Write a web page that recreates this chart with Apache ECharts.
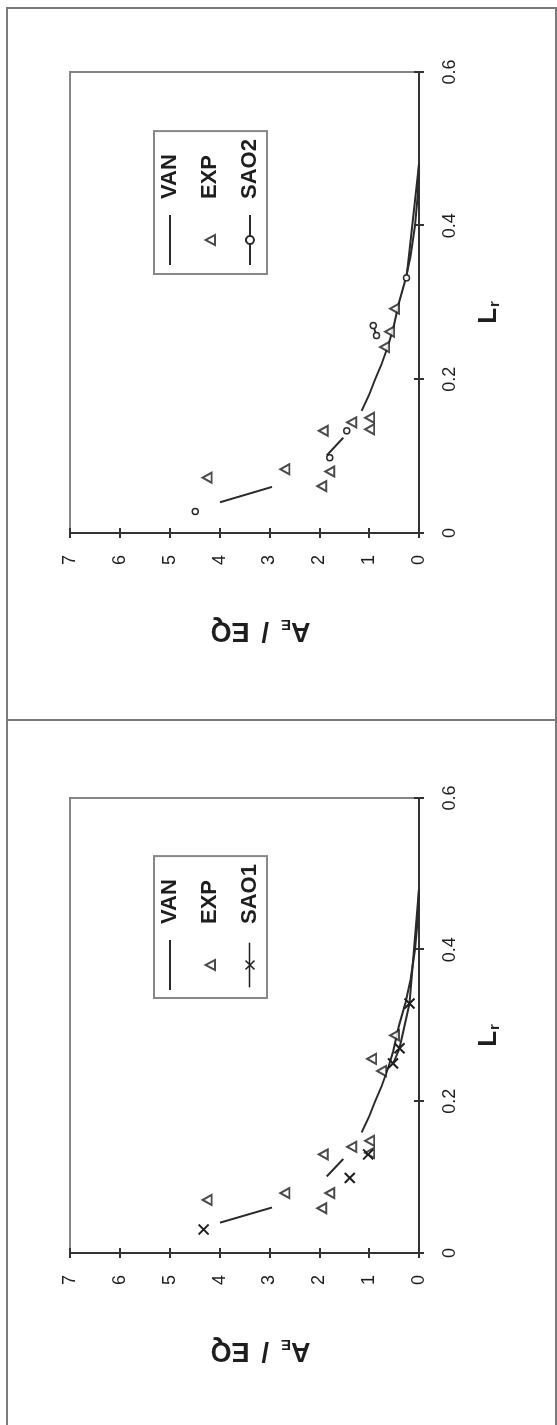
<!DOCTYPE html>
<html>
<head>
<meta charset="utf-8">
<script src="https://cdn.jsdelivr.net/npm/echarts@6/dist/echarts.min.js"></script>
<style>
  html, body { margin: 0; padding: 0; background: #fff; width: 557px; height: 1425px; overflow: hidden; }
  #page { position: absolute; left: 0; top: 0; width: 557px; height: 1425px; overflow: hidden; }
  /* the figure is laid out landscape and turned a quarter turn counter-clockwise */
  #chart { position: absolute; left: 0; top: 0; width: 1425px; height: 557px;
           transform-origin: 0 0; transform: translateY(1425px) rotate(-90deg); }
</style>
</head>
<body>
<div id="page"><div id="chart"></div></div>
<script>
// axis ticks
const lrTicks = [0, 0.2, 0.4, 0.6];
const lrLabels = ['0', '0.2', '0.4', '0.6'];
const ratioTicks = [0, 1, 2, 3, 4, 5, 6, 7];
const ratioLabels = ['0', '1', '2', '3', '4', '5', '6', '7'];

// points are [L_r, A_E/EQ]; '-' leaves a gap in a line
const vanCurve = [
  [0.040, 3.99], [0.060, 2.95], '-',
  [0.101, 1.85], [0.124, 1.52], '-',
  [0.159, 1.15], [0.180, 1.00], [0.200, 0.88], [0.220, 0.75], [0.242, 0.63],
  [0.265, 0.52], [0.300, 0.40], [0.330, 0.27], [0.360, 0.17], [0.400, 0.08],
  [0.440, 0.025], [0.480, 0.00]
];

const expPointsA = [
  [0.070, 4.25], [0.079, 2.69], [0.059, 1.95], [0.079, 1.79], [0.130, 1.92],
  [0.140, 1.35], [0.148, 0.99], [0.132, 0.99], [0.256, 0.95], [0.240, 0.75],
  [0.287, 0.49]
];
const sao1Points = [
  [0.031, 4.32], '-', [0.099, 1.39], '-', [0.130, 1.02], '-',
  [0.250, 0.52], [0.270, 0.39], [0.329, 0.19], { value: [0.480, 0.00], symbol: 'none' }
];

const expPointsB = [
  [0.072, 4.25], [0.083, 2.69], [0.061, 1.95], [0.080, 1.79], [0.133, 1.92],
  [0.144, 1.35], [0.150, 0.99], [0.135, 0.99], [0.242, 0.69], [0.262, 0.59],
  [0.292, 0.49]
];
const sao2Points = [
  [0.028, 4.49], '-', [0.098, 1.79], '-', [0.133, 1.45], '-',
  [0.257, 0.85], [0.270, 0.92], '-', [0.332, 0.25], { value: [0.480, 0.00], symbol: 'none' }
];

const FONT = '"Liberation Sans", Arial, Helvetica, sans-serif';
const INK = '#1e1e1e';
const AXIS = '#333';

// landscape layout (before the quarter turn)
const grids = [
  { left: 172, width: 455, top: 70, height: 349 },
  { left: 892, width: 461, top: 70, height: 349 }
];
const legendBoxes = [
  { left: 427, top: 154 },
  { left: 1151, top: 154 }
];

const xAxes = [], yAxes = [];
grids.forEach((g, i) => {
  xAxes.push({
    type: 'value', gridIndex: i, position: 'bottom', min: lrTicks[0], max: lrTicks[lrTicks.length - 1],
    interval: lrTicks[1] - lrTicks[0],
    name: '{a|L}{b|r}', nameLocation: 'middle', nameGap: 56,
    nameTextStyle: { padding: [0, 20, 0, 0], rich: {
      a: { fontFamily: FONT, fontSize: 26, fontWeight: 'bold', color: INK },
      b: { fontFamily: FONT, fontSize: 15, fontWeight: 'bold', color: INK, verticalAlign: 'bottom', padding: [12, 0, 0, 1] }
    } },
    axisLine: { show: true, lineStyle: { color: AXIS, width: 2 } },
    axisTick: { show: true, inside: false, length: 5, lineStyle: { color: AXIS, width: 2 } },
    axisLabel: { margin: 22, fontFamily: FONT, fontSize: 18, color: INK,
      formatter: v => lrLabels[lrTicks.findIndex(t => Math.abs(t - v) < 1e-9)] ?? '' },
    splitLine: { show: false }
  });
  // inner half of the crossing ticks
  xAxes.push({
    type: 'value', gridIndex: i, position: 'bottom', offset: 0, min: lrTicks[0], max: lrTicks[lrTicks.length - 1],
    interval: lrTicks[1] - lrTicks[0],
    axisLine: { show: false }, axisLabel: { show: false }, splitLine: { show: false },
    axisTick: { show: true, inside: true, length: 5, lineStyle: { color: AXIS, width: 2 } }
  });
  yAxes.push({
    type: 'value', gridIndex: i, position: 'left', min: ratioTicks[0], max: ratioTicks[ratioTicks.length - 1],
    interval: ratioTicks[1] - ratioTicks[0],
    name: '{a|A}{b|E}{s|/}{a|EQ}', nameLocation: 'middle', nameGap: 84, nameRotate: 90,
    nameTextStyle: { padding: [0, 32, 0, 0], rich: {
      a: { fontFamily: FONT, fontSize: 27, fontWeight: 'bold', color: INK },
      s: { fontFamily: FONT, fontSize: 27, fontWeight: 'bold', color: INK, padding: [0, 12, 0, 10] },
      b: { fontFamily: FONT, fontSize: 15, fontWeight: 'bold', color: INK, verticalAlign: 'bottom', padding: [12, 2, 0, 0] }
    } },
    axisLine: { show: true, lineStyle: { color: AXIS, width: 2 } },
    axisTick: { show: true, inside: false, length: 5, lineStyle: { color: AXIS, width: 2 } },
    axisLabel: { margin: 22, fontFamily: FONT, fontSize: 18, color: INK,
      formatter: v => ratioLabels[ratioTicks.indexOf(Math.round(v))] ?? '' },
    splitLine: { show: false }
  });
  yAxes.push({
    type: 'value', gridIndex: i, position: 'left', offset: 0, min: ratioTicks[0], max: ratioTicks[ratioTicks.length - 1],
    interval: ratioTicks[1] - ratioTicks[0],
    axisLine: { show: false }, axisLabel: { show: false }, splitLine: { show: false },
    axisTick: { show: true, inside: true, length: 5, lineStyle: { color: AXIS, width: 2 } }
  });
});

const lineStyle = { color: '#2a2a2a', width: 2 };
const crossSymbol = 'path://M0,0L10,10M0,10L10,0';
// legend keys drawn inside padded boxes so they keep a small size
const legendLine = 'path://M0,0M50,10M0,4.1L50,4.1L50,5.9L0,5.9Z';
const legendTriangle = 'path://M0,0M9,9M0,9L4.5,0.5L9,9Z';
const legendCross = 'path://M0,0M50,10M0,4.1L50,4.1L50,5.9L0,5.9Z' +
  'M20.6,0L25,4.4L29.4,0L30.6,1.2L26.2,5.6L30.6,10L29.4,11.2L25,6.8L20.6,11.2L19.4,10L23.8,5.6L19.4,1.2Z';

function panelSeries(i, expData, saoName, saoData, sao) {
  return [
    { name: 'VAN', type: 'line', xAxisIndex: i * 2, yAxisIndex: i * 2, data: vanCurve,
      symbol: 'none', connectNulls: false, lineStyle: lineStyle, itemStyle: { color: '#2a2a2a' },
      silent: true, z: 2 },
    { name: 'EXP', type: 'scatter', xAxisIndex: i * 2, yAxisIndex: i * 2, data: expData, z: 3,
      symbol: 'triangle', symbolSize: [10, 9],
      itemStyle: { color: '#fff', borderColor: '#1e1e1e', borderWidth: 2 } },
    { name: saoName, type: 'line', xAxisIndex: i * 2, yAxisIndex: i * 2, data: saoData,
      connectNulls: false, showSymbol: true, showAllSymbol: true, symbol: sao.symbol, symbolSize: sao.size,
      itemStyle: sao.itemStyle, lineStyle: lineStyle, z: 4 }
  ];
}

const series = [].concat(
  panelSeries(0, expPointsA, 'SAO1', sao1Points,
    { symbol: crossSymbol, size: 10, itemStyle: { color: 'rgba(0,0,0,0)', borderColor: '#1e1e1e', borderWidth: 2 } }),
  panelSeries(1, expPointsB, 'SAO2', sao2Points,
    { symbol: 'circle', size: 6, itemStyle: { color: '#fff', borderColor: '#2a2a2a', borderWidth: 1.5 } })
);

const legends = legendBoxes.map((b, i) => ({
  data: [
    { name: 'VAN', icon: legendLine },
    { name: 'EXP', icon: legendTriangle },
    i === 0
      ? { name: 'SAO1', icon: legendCross, itemStyle: { color: '#1e1e1e', borderWidth: 0 } }
      : 'SAO2'
  ],
  orient: 'vertical', left: b.left, top: b.top,
  padding: [5, 8, 6, 8], itemGap: 18, itemWidth: 50, itemHeight: 10,
  borderColor: '#888', borderWidth: 2, backgroundColor: '#fff',
  textStyle: { fontFamily: FONT, fontSize: 22, fontWeight: 'bold', color: INK, padding: [0, 0, 0, 11] },
  selectedMode: false
}));

const chart = echarts.init(document.getElementById('chart'), null, { renderer: 'canvas', width: 1425, height: 557 });
chart.setOption({
  backgroundColor: '#fff',
  animation: false,
  grid: grids.map(g => Object.assign({ show: true, borderColor: '#858585', borderWidth: 2, backgroundColor: '#fff' }, g)),
  xAxis: xAxes,
  yAxis: yAxes,
  legend: legends,
  series: series,
  graphic: [
    { type: 'rect', shape: { x: -5, y: 7, width: 1422, height: 549 },
      style: { fill: 'none', stroke: '#7a7a7a', lineWidth: 2 }, z: -1, silent: true },
    { type: 'line', shape: { x1: 705, y1: 7, x2: 705, y2: 556 },
      style: { stroke: '#7a7a7a', lineWidth: 2 }, z: -1, silent: true }
  ]
});
</script>
</body>
</html>
